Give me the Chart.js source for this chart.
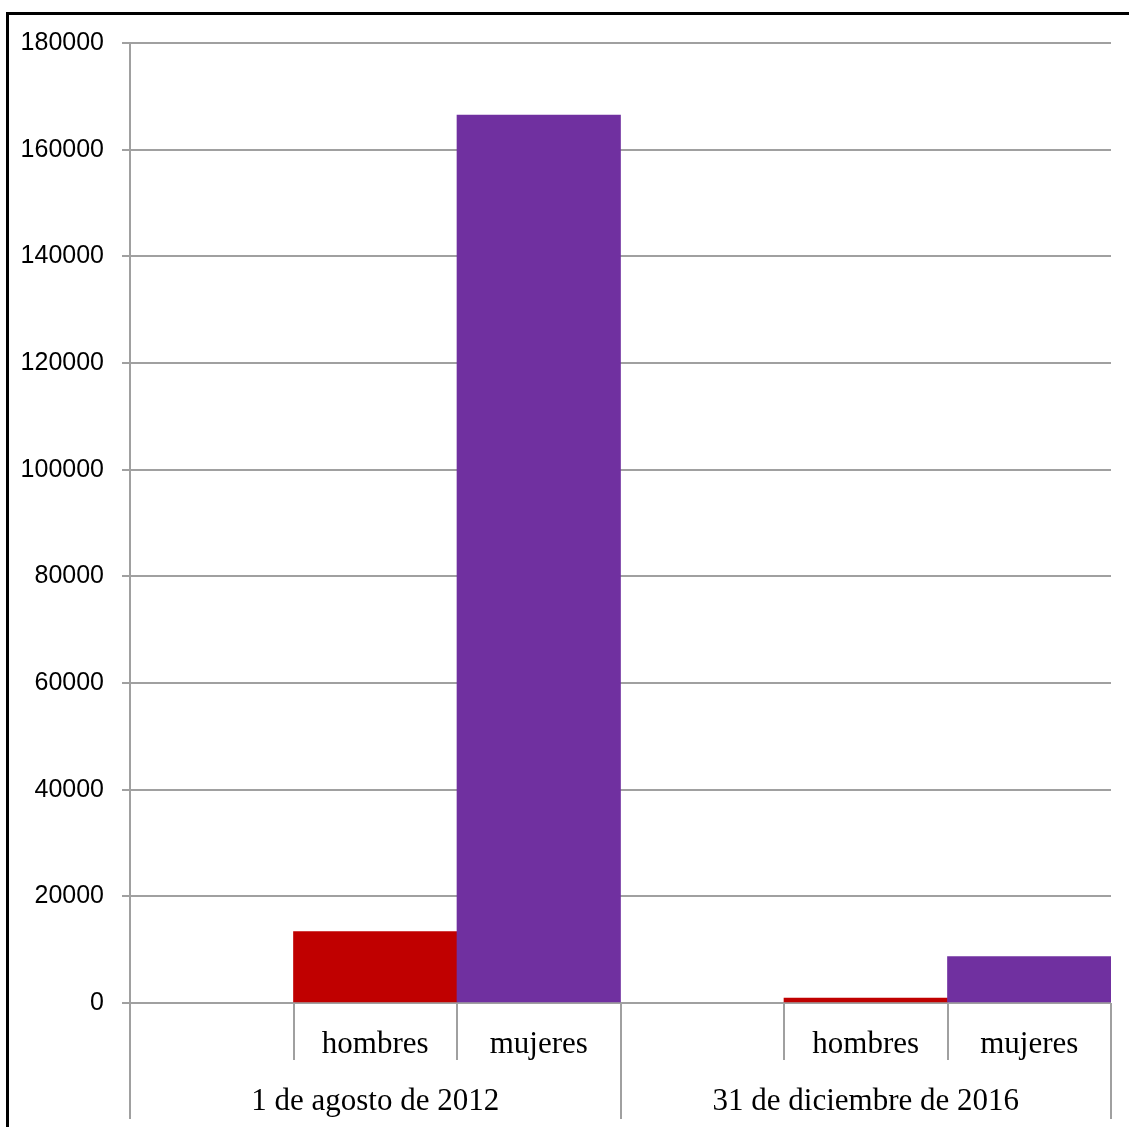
<!DOCTYPE html>
<html>
<head>
<meta charset="utf-8">
<script src="https://cdn.jsdelivr.net/npm/chart.js@4/dist/chart.umd.min.js"></script>
<style>
  html, body { margin: 0; padding: 0; background: #fff; }
  #wrap { position: relative; width: 1129px; height: 1127px; }
  #frame { position: absolute; left: 6px; top: 12px; width: 1140px; height: 1140px;
           border-left: 3px solid #000; border-top: 3px solid #000; box-sizing: border-box; }
  canvas { position: absolute; left: 0; top: 0; }
</style>
</head>
<body>
<div id="wrap">
  <div id="frame"></div>
  <canvas id="chart" width="1129" height="1127"></canvas>
</div>
<script>
// two dates, each split into men / women
const groups = ['1 de agosto de 2012', '31 de diciembre de 2016'];
const subLabels = ['', 'hombres', 'mujeres'];
const hombres = [13400, 900];
const mujeres = [166500, 8700];
const yTicks = [0, 20000, 40000, 60000, 80000, 100000, 120000, 140000, 160000, 180000];

const RED = '#c00000';
const PURPLE = '#7030a0';
const GRID = '#a0a0a0';

// flatten into slots: blank, hombres, mujeres per group
const labels = [];
const values = [];
const colors = [];
groups.forEach((g, i) => {
  labels.push('', 'hombres', 'mujeres');
  values.push(null, hombres[i], mujeres[i]);
  colors.push('rgba(0,0,0,0)', RED, PURPLE);
});

// draws the two-row category axis under the plot
const groupedAxis = {
  id: 'groupedAxis',
  afterDraw(chart) {
    const { ctx, chartArea, scales: { x } } = chart;
    const y0 = chartArea.bottom;
    const half = (x.getPixelForValue(1) - x.getPixelForValue(0)) / 2;
    const per = subLabels.length;
    ctx.save();
    ctx.strokeStyle = GRID;
    ctx.lineWidth = 2;
    // slot dividers
    for (let i = 0; i <= labels.length; i++) {
      const px = Math.round(i < labels.length ? x.getPixelForValue(i) - half : x.getPixelForValue(i - 1) + half);
      const long = i % per === 0;
      if (!long && !labels[i] && !labels[i - 1]) continue;
      ctx.beginPath();
      ctx.moveTo(px, y0);
      ctx.lineTo(px, long ? y0 + 116 : y0 + 57);
      ctx.stroke();
    }
    ctx.fillStyle = '#000';
    ctx.textAlign = 'center';
    ctx.textBaseline = 'middle';
    ctx.font = '31px "Liberation Serif", "Times New Roman", serif';
    labels.forEach((lab, i) => {
      if (lab) ctx.fillText(lab, x.getPixelForValue(i), y0 + 42);
    });
    groups.forEach((g, gi) => {
      const a = x.getPixelForValue(gi * per) - half;
      const b = x.getPixelForValue(gi * per + per - 1) + half;
      ctx.fillText(g, (a + b) / 2, y0 + 99);
    });
    ctx.restore();
  }
};

new Chart(document.getElementById('chart'), {
  type: 'bar',
  data: {
    labels,
    datasets: [{
      data: values,
      backgroundColor: colors,
      borderWidth: 0,
      barPercentage: 1,
      categoryPercentage: 1
    }]
  },
  options: {
    responsive: false,
    animation: false,
    layout: { padding: { left: 0, top: 43, right: 18, bottom: 124 } },
    plugins: { legend: { display: false }, tooltip: { enabled: false } },
    scales: {
      x: {
        type: 'category',
        offset: true,
        grid: { display: false, drawTicks: false },
        border: { display: false },
        ticks: { display: false }
      },
      y: {
        min: 0,
        max: 180000,
        afterFit: s => { s.width = 130; },
        afterBuildTicks: s => { s.ticks = yTicks.map(v => ({ value: v })); },
        grid: { color: GRID, lineWidth: 2, tickLength: 8 },
        border: { display: true, color: GRID, width: 2 },
        ticks: {
          padding: 18,
          color: '#000',
          font: { family: '"Liberation Sans", Arial, sans-serif', size: 25 },
          callback: v => String(v)
        }
      }
    }
  },
  plugins: [groupedAxis]
});
</script>
</body>
</html>
